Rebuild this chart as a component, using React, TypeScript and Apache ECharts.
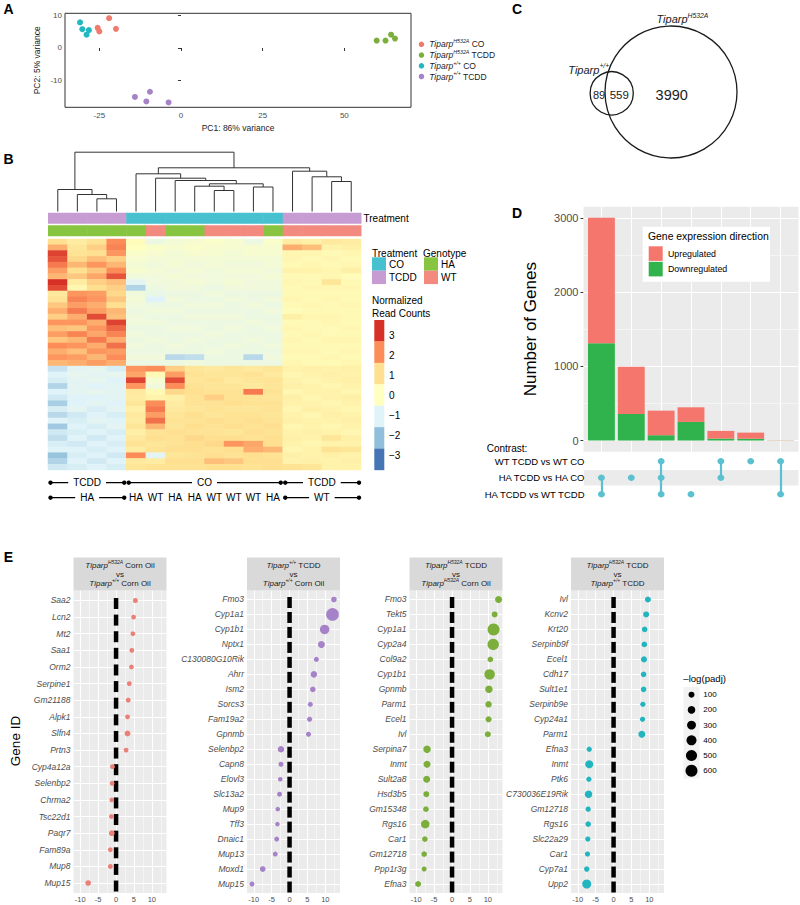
import React, { useEffect, useRef } from 'react';
import * as echarts from 'echarts';

const FONT = "'Liberation Sans', Arial, Helvetica, sans-serif";

// ---------------- Panel A : PCA ----------------
const pcaGroups = ['H532A CO', 'H532A TCDD', '+/+ CO', '+/+ TCDD'];
const pcaGroupSup = ['H532A', 'H532A', '+/+', '+/+'];
const pcaGroupTreat = [' CO', ' TCDD', ' CO', ' TCDD'];
const pcaH532A_CO = [[-25.5, 6.2], [-25.0, 5.1], [-22.0, 9.2], [-19.9, 5.9]];
const pcaH532A_TCDD = [[59.9, 2.3], [62.6, 2.3], [64.3, 4.1], [65.5, 2.9]];
const pcaWT_CO = [[-30.9, 7.9], [-30.2, 5.8], [-28.9, 4.1], [-28.2, 5.5]];
const pcaWT_TCDD = [[-14.1, -15.1], [-10.6, -16.5], [-9.5, -13.5], [-3.8, -16.8]];
const pcaColors = ['#EF7B6D', '#7BAE3B', '#22B8C1', '#A683C8'];
const pcaXTicks = [-25, 0, 25, 50];
const pcaYTicks = [-10, 0, 10];

// ---------------- Panel C : Venn ----------------
const vennOnlyWT = 89;
const vennShared = 559;
const vennOnlyHA = 3990;

// ---------------- Panel B : heatmap ----------------
const hmSamples = ['s1', 's2', 's3', 's4', 's5', 's6', 's7', 's8', 's9', 's10', 's11', 's12', 's13', 's14', 's15', 's16'];
const hmTreatment = ['TCDD', 'TCDD', 'TCDD', 'TCDD', 'CO', 'CO', 'CO', 'CO', 'CO', 'CO', 'CO', 'CO', 'TCDD', 'TCDD', 'TCDD', 'TCDD'];
const hmGenotype = ['HA', 'HA', 'HA', 'HA', 'HA', 'WT', 'HA', 'HA', 'WT', 'WT', 'WT', 'HA', 'WT', 'WT', 'WT', 'WT'];
const hmValues = [
  [1.0, 0.6, 0.9, 2.0, 0.1, -0.6, -0.4, -0.3, -0.2, -0.3, -0.6, -0.2, 0.6, 0.5, 0.7, 0.6],
  [1.6, 0.8, 1.2, 2.1, 0.0, -0.2, -0.3, -0.2, -0.3, -0.3, -0.3, -0.3, 1.6, 1.4, 0.4, 0.5],
  [2.8, 0.9, 1.0, 1.9, -0.2, -0.3, -0.4, -0.3, -0.3, -0.4, -0.3, -0.3, 0.3, 0.3, 0.2, 0.3],
  [2.6, 1.1, 1.4, 1.2, -0.3, -0.4, -0.4, -0.4, -0.4, -0.4, -0.4, -0.4, 0.3, 0.2, 0.3, 0.2],
  [2.2, 1.5, 1.9, 1.5, -0.4, -0.5, -0.4, -0.5, -0.4, -0.5, -0.5, -0.4, 0.2, 0.3, 0.2, 0.3],
  [1.8, 1.0, 1.3, 2.0, -0.3, -0.4, -0.5, -0.4, -0.5, -0.4, -0.4, -0.5, 0.4, 0.4, 0.3, 0.5],
  [1.5, 1.3, 1.7, 2.6, -0.5, -0.5, -0.4, -0.5, -0.5, -0.5, -0.5, -0.4, 0.2, 0.2, 0.3, 0.1],
  [3.0, 0.6, 1.2, 1.4, -0.9, -0.5, -0.5, -0.4, -0.5, -0.4, -0.5, -0.5, 0.3, 0.2, 0.8, 0.2],
  [2.7, 0.3, 1.0, 1.2, -1.6, -0.6, -0.5, -0.5, -0.6, -0.5, -0.5, -0.5, 0.2, 0.3, 0.3, 0.3],
  [0.7, 1.9, 1.8, 1.1, -0.5, -0.7, -0.6, -0.6, -0.5, -0.6, -0.6, -0.6, 0.2, 0.2, 0.2, 0.2],
  [0.9, 2.1, 1.9, 1.3, -0.4, -1.0, -0.5, -0.6, -0.6, -0.5, -0.6, -0.5, 0.3, 0.2, 0.3, 0.2],
  [1.3, 1.8, 1.6, 1.0, -0.5, -0.6, -0.6, -0.5, -0.5, -0.6, -0.5, -0.6, 0.2, 0.3, 0.2, 0.3],
  [1.6, 2.2, 1.8, 1.5, -0.6, -0.5, -0.5, -0.6, -0.6, -0.6, -0.6, -0.5, 0.1, 0.2, 0.2, 0.2],
  [1.2, 1.6, 2.7, 1.4, -0.5, -0.6, -0.6, -0.5, -0.5, -0.5, -0.6, -0.6, 0.5, 0.3, 0.3, 0.2],
  [1.9, 1.9, 1.6, 2.8, -0.5, -0.5, -0.6, -0.6, -0.6, -0.6, -0.5, -0.6, 0.2, 0.2, 0.3, 0.2],
  [1.4, 1.3, 1.9, 2.4, -0.6, -0.6, -0.5, -0.5, -0.6, -0.5, -0.6, -0.5, 0.3, 0.2, 0.2, 0.3],
  [1.8, 2.1, 1.7, 2.1, -0.5, -0.6, -0.6, -0.6, -0.5, -0.6, -0.6, -0.6, 0.2, 0.3, 0.2, 0.2],
  [1.3, 1.5, 2.2, 1.6, -0.6, -0.5, -0.6, -0.5, -0.6, -0.6, -0.5, -0.6, 0.3, 0.2, 0.3, 0.3],
  [2.0, 1.9, 1.6, 2.3, -0.5, -0.6, -0.5, -0.6, -0.6, -0.5, -0.6, -0.5, 0.2, 0.2, 0.2, 0.2],
  [1.6, 1.4, 1.9, 1.8, -0.6, -0.6, -0.6, -0.6, -0.5, -0.6, -0.6, -0.6, 0.3, 0.3, 0.2, 0.3],
  [1.9, 1.8, 1.5, 2.0, -0.5, -0.5, -1.5, -1.4, -0.6, -0.6, -1.5, -0.5, 0.2, 0.2, 0.3, 0.2],
  [1.5, 1.6, 1.8, 1.6, -0.6, -0.6, -0.6, -0.5, -0.6, -0.6, -0.6, -0.6, 0.3, 0.2, 0.2, 0.3],
  [-1.3, -0.9, -0.8, -1.1, 1.9, 2.0, 1.2, 0.8, 0.7, 0.8, 0.7, 0.8, 0.4, 0.5, 0.4, 0.5],
  [-1.0, -0.8, -0.9, -0.8, 1.7, 0.2, 1.8, 0.9, 0.8, 0.8, 0.9, 0.7, 0.3, 0.4, 0.5, 0.4],
  [-1.1, -0.9, -0.8, -1.0, 2.8, -0.3, 2.7, 0.8, 0.9, 0.7, 0.8, 0.9, 0.4, 0.3, 0.4, 0.5],
  [-1.6, -0.9, -1.0, -0.9, 1.9, -0.5, 2.0, 0.9, 0.8, 0.8, 0.7, 0.8, 0.5, 0.4, 0.3, 0.4],
  [-1.0, -0.9, -0.8, -0.9, 0.7, 0.2, 1.1, 1.0, 0.9, 0.9, 2.2, 0.9, 0.3, 0.4, 0.4, 0.3],
  [-1.2, -1.0, -1.0, -0.9, 0.6, 0.4, 0.5, 0.9, 1.2, 0.9, 0.9, 0.8, 0.5, 0.3, 0.4, 0.5],
  [-1.7, -1.0, -0.9, -1.0, 0.8, 2.0, 0.6, 0.9, 0.9, 1.0, 0.9, 0.9, 0.4, 0.4, 0.3, 0.4],
  [-1.1, -0.9, -1.1, -0.9, 0.5, 2.2, 0.7, 0.8, 0.9, 0.8, 0.8, 0.9, 0.3, 0.5, 0.4, 0.3],
  [-1.5, -1.2, -1.0, -1.1, 0.7, 1.8, 0.8, 1.0, 0.8, 0.9, 0.9, 0.8, 0.4, 0.3, 0.5, 0.4],
  [-1.0, -1.1, -0.9, -1.0, 0.6, 2.3, 0.9, 0.9, 1.0, 0.9, 1.0, 0.9, 0.5, 0.4, 0.4, 0.5],
  [-1.8, -1.0, -1.1, -0.9, 0.8, 1.5, 0.8, 1.0, 0.9, 1.0, 0.9, 1.0, 0.3, 0.4, 0.3, 0.4],
  [-1.2, -1.1, -1.0, -1.1, 0.5, 0.9, 1.0, 0.9, 0.9, 0.8, 1.0, 0.9, 0.4, 0.5, 0.4, 0.3],
  [-1.4, -1.0, -1.2, -1.0, 0.7, 1.0, 0.9, 1.1, 1.0, 1.0, 0.9, 1.0, 0.5, 0.4, 0.8, 0.5],
  [-1.1, -1.2, -1.0, -1.1, 0.9, 0.8, 0.9, 1.0, 1.1, 1.9, 1.7, 1.0, 0.4, 0.3, 0.4, 0.4],
  [-1.0, -1.0, -1.1, -1.0, 0.6, 0.9, 1.0, 1.0, 0.9, 1.0, 1.6, 1.5, 0.3, 0.4, 0.9, 0.8],
  [-1.9, -1.1, -1.0, -1.2, 2.0, -0.9, 0.8, 0.9, 1.0, 0.9, 1.0, 0.9, 0.5, 0.4, 0.5, 0.4],
  [-1.6, -1.0, -1.2, -1.0, 0.7, 0.6, 1.0, 1.0, 1.4, 1.3, 1.0, 1.0, 0.4, 0.5, 0.4, 0.5],
  [-1.2, -1.1, -1.0, -1.1, 0.8, 0.9, 0.9, 0.9, 1.0, 1.0, 0.9, 1.0, 0.9, 0.8, 0.4, 0.4],
];
// hclust-style merges (negative = leaf, positive = earlier merge) and merge heights
const dendroMerge = [[-3, -4], [-2, 1], [-1, 2], [-9, -10], [-8, 4], [-11, -12], [5, 6], [-7, 7], [-6, 8], [-5, 9], [-15, -16], [-14, 11], [-13, 12], [10, 13], [3, 14]];
const dendroHeight = [12.7, 17, 22, 21, 25.3, 24.5, 27.7, 31, 33.3, 37.7, 30, 34.7, 40.3, 43.7, 59.3];
const hmPalette = ['#4575B4', '#91BFDB', '#E0F3F8', '#FFFFBF', '#FEE090', '#FC8D59', '#D73027'];
const hmLegendValues = [3, 2, 1, 0, -1, -2, -3];
const treatmentKeys = ['CO', 'TCDD'];
const treatmentColors: Record<string, string> = { CO: '#47C1CF', TCDD: '#C69CD2' };
const genotypeKeys = ['HA', 'WT'];
const genotypeColors: Record<string, string> = { HA: '#87C440', WT: '#F28A7F' };

// ---------------- Panel D : upset ----------------
const upsetDown = [1310, 358, 72, 251, 27, 25, 2];
const upsetUp = [1690, 636, 331, 197, 103, 82, 3];
const upsetCats = ['c1', 'c2', 'c3', 'c4', 'c5', 'c6', 'c7'];
const contrasts = ['WT TCDD vs WT CO', 'HA TCDD vs HA CO', 'HA TCDD vs WT TCDD'];
const upsetSets = [[1, 2], [1], [0, 1, 2], [2], [0, 1], [0], [0, 2]];
const upsetYTicks = [0, 1000, 2000, 3000];
const upsetYMinor = [500, 1500, 2500];

// ---------------- Panel E : dot plots ----------------
const e1Genes = ['Saa2', 'Lcn2', 'Mt2', 'Saa1', 'Orm2', 'Serpine1', 'Gm21188', 'Alpk1', 'Slfn4', 'Prtn3', 'Cyp4a12a', 'Selenbp2', 'Chrma2', 'Tsc22d1', 'Paqr7', 'Fam89a', 'Mup8', 'Mup15'];
const e1LogFC = [5.4, 4.9, 4.7, 4.4, 4.3, 3.7, 3.4, 3.2, 3.2, 2.8, -1.0, -1.1, -1.2, -1.3, -1.2, -1.6, -1.6, -7.8];
const e1NegLogP = [50, 40, 40, 40, 40, 40, 40, 40, 90, 40, 40, 45, 35, 40, 90, 40, 45, 80];
const e2Genes = ['Fmo3', 'Cyp1a1', 'Cyp1b1', 'Nptx1', 'C130080G10Rik', 'Ahrr', 'Ism2', 'Sorcs3', 'Fam19a2', 'Gpnmb', 'Selenbp2', 'Capn8', 'Elovl3', 'Slc13a2', 'Mup9', 'Tff3', 'Dnaic1', 'Mup13', 'Moxd1', 'Mup15'];
const e2LogFC = [12.4, 12.0, 9.8, 8.9, 7.5, 6.8, 6.5, 5.8, 5.6, 5.3, -2.4, -2.4, -2.6, -2.8, -3.3, -3.4, -3.6, -4.0, -7.5, -10.5];
const e2NegLogP = [80, 680, 350, 160, 50, 130, 80, 50, 50, 50, 130, 50, 30, 50, 30, 30, 50, 50, 80, 50];
const e3Genes = ['Fmo3', 'Tekt5', 'Cyp1a1', 'Cyp2a4', 'Col9a2', 'Cyp1b1', 'Gpnmb', 'Parm1', 'Ecel1', 'Ivl', 'Serpina7', 'Inmt', 'Sult2a8', 'Hsd3b5', 'Gm15348', 'Rgs16', 'Car1', 'Gm12718', 'Ppp1r3g', 'Efna3'];
const e3LogFC = [13.0, 11.9, 11.6, 11.5, 10.7, 10.5, 10.3, 10.2, 10.2, 10.0, -7.0, -7.0, -7.1, -7.2, -7.3, -7.5, -7.6, -7.8, -7.8, -9.5];
const e3NegLogP = [160, 100, 600, 540, 80, 440, 190, 130, 100, 100, 190, 160, 160, 100, 80, 270, 80, 80, 50, 100];
const e4Genes = ['Ivl', 'Kcnv2', 'Krt20', 'Serpinb9f', 'Ecel1', 'Cdh17', 'Sult1e1', 'Serpinb9e', 'Cyp24a1', 'Parm1', 'Efna3', 'Inmt', 'Ptk6', 'C730036E19Rik', 'Gm12718', 'Rgs16', 'Slc22a29', 'Car1', 'Cyp7a1', 'Upp2'];
const e4LogFC = [9.6, 9.1, 8.7, 8.6, 8.5, 8.4, 8.4, 8.2, 8.1, 7.9, -6.8, -6.8, -6.9, -7.0, -7.1, -7.1, -7.2, -7.3, -7.5, -7.5];
const e4NegLogP = [100, 100, 80, 80, 100, 80, 80, 60, 60, 160, 60, 230, 60, 190, 60, 80, 60, 60, 70, 310];
const eColors = ['#EA8077', '#A683C8', '#7BAE3B', '#22B5C0'];
const eSup1 = ['H532A', '+/+', 'H532A', 'H532A'];
const eTreat1 = [' Corn Oil', ' TCDD', ' TCDD', ' TCDD'];
const eSup2 = ['+/+', '+/+', 'H532A', '+/+'];
const eTreat2 = [' Corn Oil', ' Corn Oil', ' Corn Oil', ' TCDD'];
const eXTicks = [-10, -5, 0, 5, 10];
const eXMinor = [-7.5, -2.5, 2.5, 7.5, 12.5];
const eSizeLegend = [100, 200, 300, 400, 500, 600];

const eSize = (v: number) => Math.sqrt(14.4 + 0.216 * v);
const tip = (sup: string, rest: string) => `{i|Tiparp}{s|${sup}}{n|${rest}}`;
// rich styles for graphic (zrender uses fill) and for components (color)
const tipRichG = (fs: number) => ({
  i: { fontStyle: 'italic', fontSize: fs, lineHeight: fs * 1.3, fontFamily: FONT, fill: '#1a1a1a' },
  s: { fontStyle: 'italic', fontSize: fs * 0.62, lineHeight: fs * 0.75, verticalAlign: 'top', fontFamily: FONT, fill: '#1a1a1a' },
  n: { fontSize: fs, lineHeight: fs * 1.3, fontFamily: FONT, fill: '#1a1a1a' },
});
const tipRichC = (fs: number) => ({
  i: { fontStyle: 'italic', fontSize: fs, lineHeight: fs * 1.3, fontFamily: FONT, color: '#1a1a1a' },
  s: { fontStyle: 'italic', fontSize: fs * 0.62, lineHeight: fs * 0.75, verticalAlign: 'top', fontFamily: FONT, color: '#1a1a1a' },
  n: { fontSize: fs, lineHeight: fs * 1.3, fontFamily: FONT, color: '#1a1a1a' },
});

function buildOption() {
  const grid: any[] = [];
  const xAxis: any[] = [];
  const yAxis: any[] = [];
  const series: any[] = [];
  const graphic: any[] = [];
  const off = { show: false };
  const addGrid = (g: any) => { grid.push(g); return grid.length - 1; };
  const txt = (x: number, y: number, text: string, o: any = {}) => graphic.push({
    type: 'text', x, y, rotation: o.rotation || 0, z: 20,
    style: { text, fontSize: o.fontSize || 10, fontFamily: o.fontFamily || FONT, fontWeight: o.fontWeight || 'normal', fontStyle: o.fontStyle || 'normal', fill: o.fill || '#000', align: o.align || 'left', verticalAlign: 'middle', rich: o.rich, backgroundColor: o.bg, padding: o.padding },
  });

  // ===== Panel A =====
  const gA = addGrid({ left: 65, top: 13.3, width: 346, height: 94, show: true, borderColor: '#333', borderWidth: 1, backgroundColor: '#fff' });
  xAxis.push({
    gridIndex: gA, type: 'value', min: -35.5, max: 70.4, axisLine: off, splitLine: off,
    axisTick: { show: true, length: 3, customValues: pcaXTicks, lineStyle: { color: '#333' } },
    axisLabel: { customValues: pcaXTicks, fontSize: 8, color: '#4d4d4d', margin: 4 },
    name: 'PC1: 86% variance', nameLocation: 'middle', nameGap: 16, nameTextStyle: { fontSize: 8.5, color: '#1a1a1a' },
  });
  yAxis.push({
    gridIndex: gA, type: 'value', min: -18.3, max: 10.7, axisLine: off, splitLine: off,
    axisTick: { show: true, length: 3, customValues: pcaYTicks, lineStyle: { color: '#333' } },
    axisLabel: { customValues: pcaYTicks, fontSize: 8, color: '#4d4d4d', margin: 3 },
    name: 'PC2: 5% variance', nameLocation: 'middle', nameGap: 24, nameRotate: 90, nameTextStyle: { fontSize: 8.5, color: '#1a1a1a' },
  });
  [pcaH532A_CO, pcaH532A_TCDD, pcaWT_CO, pcaWT_TCDD].forEach((d, k) => series.push({
    type: 'scatter', name: pcaGroups[k], xAxisIndex: gA, yAxisIndex: gA, data: d, symbolSize: 6,
    itemStyle: { color: pcaColors[k], opacity: 1 }, z: 5, silent: true,
  }));

  // ===== Panel C: Venn =====
  graphic.push({ type: 'circle', shape: { cx: 671, cy: 92, r: 66 }, style: { fill: 'none', stroke: '#1a1a1a', lineWidth: 1.3 } });
  graphic.push({ type: 'circle', shape: { cx: 611.7, cy: 93.3, r: 21.6 }, style: { fill: 'none', stroke: '#1a1a1a', lineWidth: 1.3 } });
  txt(599, 95, String(vennOnlyWT), { fontSize: 11, align: 'center', fill: '#1a1a1a' });
  txt(619.3, 95, String(vennShared), { fontSize: 11.5, align: 'center', fill: '#1a1a1a' });
  txt(671.7, 95, String(vennOnlyHA), { fontSize: 14.5, align: 'center', fill: '#1a1a1a' });
  txt(656.5, 19, tip('H532A', ''), { fontSize: 11, rich: tipRichG(11) });
  txt(568.3, 69.5, tip('+/+', ''), { fontSize: 11, rich: tipRichG(11) });

  // ===== Panel B =====
  const HM_LEFT = 48, HM_W = 313, COL_W = HM_W / 16;
  const gDen = addGrid({ left: HM_LEFT, top: 150, width: HM_W, height: 61.5 });
  xAxis.push({ gridIndex: gDen, type: 'value', min: 0, max: 16, show: false });
  yAxis.push({ gridIndex: gDen, type: 'value', min: 0, max: 61.5, show: false });
  const nodeX: number[] = [];
  const nodeH: number[] = [];
  const pos = (r: number) => (r < 0 ? [-r - 1 + 0.5, 0] : [nodeX[r - 1], nodeH[r - 1]]);
  const dendroSegs = dendroMerge.map(([a, b], k) => {
    const [xa, ha] = pos(a);
    const [xb, hb] = pos(b);
    const h = dendroHeight[k];
    nodeX.push((xa + xb) / 2);
    nodeH.push(h);
    return { coords: [[xa, ha], [xa, h], [xb, h], [xb, hb]] };
  });
  series.push({
    type: 'lines', coordinateSystem: 'cartesian2d', xAxisIndex: gDen, yAxisIndex: gDen, polyline: true,
    data: dendroSegs, lineStyle: { color: '#333', width: 1, opacity: 1 }, silent: true,
  });
  const gAnn = addGrid({ left: HM_LEFT, top: 212, width: HM_W, height: 25 });
  xAxis.push({ gridIndex: gAnn, type: 'category', data: hmSamples, show: false });
  yAxis.push({
    gridIndex: gAnn, type: 'category', data: ['Treatment', 'Genotype'], inverse: true, position: 'right',
    axisLine: off, axisTick: off, axisLabel: { fontSize: 10, color: '#000', margin: 2.5 },
  });
  const annCells = [
    ...hmTreatment.map((t, i) => ({ col: i, row: 0, color: treatmentColors[t] })),
    ...hmGenotype.map((g, i) => ({ col: i, row: 1, color: genotypeColors[g] })),
  ];
  series.push({
    type: 'custom', xAxisIndex: gAnn, yAxisIndex: gAnn, silent: true,
    data: annCells.map((c) => [c.col, c.row]),
    renderItem: (params: any, api: any) => {
      const p = api.coord([api.value(0), api.value(1)]);
      const s = api.size([1, 1]);
      return { type: 'rect', shape: { x: p[0] - s[0] / 2, y: p[1] - 5.5, width: s[0] + 0.5, height: 11 }, style: { fill: annCells[params.dataIndex].color } };
    },
  });
  const gHm = addGrid({ left: HM_LEFT, top: 239, width: HM_W, height: 231 });
  xAxis.push({ gridIndex: gHm, type: 'category', data: hmSamples, show: false });
  yAxis.push({ gridIndex: gHm, type: 'category', data: hmValues.map((_, i) => 'g' + i), inverse: true, show: false });
  const hmData: number[][] = [];
  hmValues.forEach((row, r) => row.forEach((v, c) => hmData.push([c, r, v])));
  const heatIdx = series.length;
  series.push({ type: 'heatmap', xAxisIndex: gHm, yAxisIndex: gHm, data: hmData, silent: true, progressive: 0, itemStyle: { borderWidth: 0 } });

  txt(372, 253.3, 'Treatment', { fontSize: 10 });
  txt(423, 253.3, 'Genotype', { fontSize: 10 });
  treatmentKeys.forEach((k, i) => {
    graphic.push({ type: 'rect', shape: { x: 372, y: 257.3 + i * 13.4, width: 14, height: 13.4 }, style: { fill: treatmentColors[k] } });
    txt(389, 264 + i * 13.6, k, { fontSize: 10 });
  });
  genotypeKeys.forEach((k, i) => {
    graphic.push({ type: 'rect', shape: { x: 424, y: 257.3 + i * 13.4, width: 14, height: 13.4 }, style: { fill: genotypeColors[k] } });
    txt(441, 264 + i * 13.6, k, { fontSize: 10 });
  });
  txt(372, 300, 'Normalized', { fontSize: 10 });
  txt(372, 313.3, 'Read Counts', { fontSize: 10 });
  hmLegendValues.forEach((v, i) => {
    graphic.push({ type: 'rect', shape: { x: 374.3, y: 320 + i * 21.43, width: 10, height: 21.6 }, style: { fill: hmPalette[6 - i] } });
    txt(389, 335 + i * 20, v < 0 ? '\u2212' + Math.abs(v) : String(v), { fontSize: 10 });
  });

  const spans: { s: number; e: number; label: string }[] = [];
  hmTreatment.forEach((t, i) => {
    if (i > 0 && hmTreatment[i - 1] === t) spans[spans.length - 1].e = i;
    else spans.push({ s: i, e: i, label: t });
  });
  const bracket = (x0: number, x1: number, y: number, label: string) => {
    graphic.push({ type: 'line', shape: { x1: x0 + 2.5, y1: y, x2: x1 - 2, y2: y }, style: { stroke: '#000', lineWidth: 1.2 } });
    graphic.push({ type: 'circle', shape: { cx: x0 + 2.5, cy: y, r: 2.2 }, style: { fill: '#000' } });
    graphic.push({ type: 'circle', shape: { cx: x1 - 2, cy: y, r: 2.2 }, style: { fill: '#000' } });
    txt((x0 + x1) / 2, y, label, { fontSize: 10, align: 'center', bg: '#fff', padding: [0, 5] });
  };
  spans.forEach((sp) => {
    const x0 = HM_LEFT + sp.s * COL_W;
    const x1 = HM_LEFT + (sp.e + 1) * COL_W;
    bracket(x0, x1, 482.7, sp.label);
    const gens = hmGenotype.slice(sp.s, sp.e + 1);
    if (gens.every((g) => g === gens[0])) bracket(x0, x1, 497.7, gens[0]);
    else gens.forEach((g, j) => txt(HM_LEFT + (sp.s + j + 0.5) * COL_W, 497.7, g, { fontSize: 10, align: 'center' }));
  });

  // ===== Panel D =====
  const gDbg = addGrid({ left: 583.5, top: 206.7, width: 215, height: 245, show: true, backgroundColor: '#EBEBEB', borderWidth: 0 });
  const catPos = upsetCats.map((_, i) => i + 1);
  xAxis.push({
    gridIndex: gDbg, type: 'value', min: 0.4, max: 7.6, axisLine: off, splitLine: off, axisLabel: off,
    axisTick: { show: true, length: 3, customValues: catPos, lineStyle: { color: '#333' } },
  });
  yAxis.push({
    gridIndex: gDbg, type: 'value', min: -150, max: 3150, axisLine: off, splitLine: off,
    axisTick: { show: true, length: 3, customValues: upsetYTicks, lineStyle: { color: '#333' } },
    axisLabel: { customValues: upsetYTicks, formatter: (v: number) => String(v), fontSize: 11, color: '#4d4d4d', margin: 5 },
    name: 'Number of Genes', nameLocation: 'middle', nameGap: 45, nameRotate: 90, nameTextStyle: { fontSize: 17, color: '#000' },
  });
  series.push({
    type: 'line', xAxisIndex: gDbg, yAxisIndex: gDbg, data: [[1, -150]], symbol: 'none', lineStyle: { opacity: 0 }, silent: true,
    markLine: {
      silent: true, symbol: ['none', 'none'], label: off, animation: false,
      data: [
        ...upsetYTicks.map((v) => ({ yAxis: v, lineStyle: { color: '#fff', width: 1.1, type: 'solid' } })),
        ...upsetYMinor.map((v) => ({ yAxis: v, lineStyle: { color: '#fff', width: 0.5, type: 'solid' } })),
        ...catPos.map((v) => ({ xAxis: v, lineStyle: { color: '#fff', width: 1.1, type: 'solid' } })),
      ],
    },
  });
  const gD = addGrid({ left: 586.5, top: 206.7, width: 209, height: 245 });
  xAxis.push({ gridIndex: gD, type: 'category', data: upsetCats, show: false });
  yAxis.push({ gridIndex: gD, type: 'value', min: -150, max: 3150, show: false });
  series.push({ type: 'bar', name: 'Downregulated', stack: 'dir', xAxisIndex: gD, yAxisIndex: gD, data: upsetDown, barWidth: '90%', itemStyle: { color: '#30B24C' }, z: 10, silent: true });
  series.push({ type: 'bar', name: 'Upregulated', stack: 'dir', xAxisIndex: gD, yAxisIndex: gD, data: upsetUp, barWidth: '90%', itemStyle: { color: '#F4766C' }, z: 10, silent: true });
  graphic.push({ type: 'rect', shape: { x: 642.7, y: 226.7, width: 127.3, height: 55 }, style: { fill: '#fff' }, z: 15 });
  txt(648, 236.7, 'Gene expression direction', { fontSize: 10.4 });
  graphic.push({ type: 'rect', shape: { x: 648.7, y: 246.3, width: 14, height: 14.6 }, style: { fill: '#F4766C' }, z: 16 });
  graphic.push({ type: 'rect', shape: { x: 648.7, y: 261.8, width: 14, height: 14.6 }, style: { fill: '#30B24C' }, z: 16 });
  txt(668, 253.6, 'Upregulated', { fontSize: 8.8 });
  txt(668, 269, 'Downregulated', { fontSize: 8.8 });
  graphic.push({ type: 'rect', shape: { x: 584, y: 470, width: 214.5, height: 15.5 }, style: { fill: '#EBEBEB' }, z: 0 });
  txt(486.7, 448.3, 'Contrast:', { fontSize: 10 });
  const gM = addGrid({ left: 586.5, top: 453, width: 209, height: 49.5 });
  xAxis.push({ gridIndex: gM, type: 'category', data: upsetCats, show: false });
  yAxis.push({
    gridIndex: gM, type: 'category', data: contrasts, inverse: true, axisLine: off, axisTick: off,
    axisLabel: { fontSize: 9.5, color: '#000', margin: 2 },
  });
  const dotData: number[][] = [];
  const linkData: any[] = [];
  upsetSets.forEach((set, c) => {
    set.forEach((r) => dotData.push([c, r]));
    if (set.length > 1) linkData.push({ coords: [[c, Math.min(...set)], [c, Math.max(...set)]] });
  });
  series.push({ type: 'lines', coordinateSystem: 'cartesian2d', xAxisIndex: gM, yAxisIndex: gM, data: linkData, lineStyle: { color: '#5BC0CF', width: 2.2, opacity: 1 }, z: 9, silent: true });
  series.push({ type: 'scatter', xAxisIndex: gM, yAxisIndex: gM, data: dotData, symbolSize: [7, 6.3], itemStyle: { color: '#5BC0CF', opacity: 1 }, z: 10, silent: true });

  // ===== Panel E =====
  const eGenes = [e1Genes, e2Genes, e3Genes, e4Genes];
  const eFC = [e1LogFC, e2LogFC, e3LogFC, e4LogFC];
  const eP = [e1NegLogP, e2NegLogP, e3NegLogP, e4NegLogP];
  const eLefts = [73.5, 247, 409.5, 571];
  const E_TOP = 590.5, E_H = 302.5, E_W = 93;
  eGenes.forEach((genes, k) => {
    const g = addGrid({ left: eLefts[k], top: E_TOP, width: E_W, height: E_H, show: true, backgroundColor: '#EBEBEB', borderWidth: 0 });
    const n = genes.length;
    const rowIdx = genes.map((_, i) => i);
    xAxis.push({
      gridIndex: g, type: 'value', min: -11.9, max: 14.1, axisLine: off, splitLine: off,
      axisTick: { show: true, length: 2.5, customValues: eXTicks, lineStyle: { color: '#333' } },
      axisLabel: { customValues: eXTicks, fontSize: 7.5, color: '#4d4d4d', margin: 2.5 },
    });
    yAxis.push({
      gridIndex: g, type: 'value', min: -0.6, max: n - 0.4, inverse: true, axisLine: off, splitLine: off,
      axisTick: { show: true, length: 2.5, customValues: rowIdx, lineStyle: { color: '#333' } },
      axisLabel: { customValues: rowIdx, formatter: (v: number) => genes[Math.round(v)] || '', fontSize: 8.5, fontStyle: 'italic', color: '#4d4d4d', margin: 3 },
    });
    series.push({
      type: 'line', xAxisIndex: g, yAxisIndex: g, data: [[0, 0]], symbol: 'none', lineStyle: { opacity: 0 }, silent: true,
      markLine: {
        silent: true, symbol: ['none', 'none'], label: off, animation: false,
        data: [
          ...eXMinor.map((v) => ({ xAxis: v, lineStyle: { color: '#fff', width: 0.5, type: 'solid' } })),
          ...eXTicks.map((v) => ({ xAxis: v, lineStyle: { color: '#fff', width: 1.1, type: 'solid' } })),
          ...rowIdx.map((v) => ({ yAxis: v, lineStyle: { color: '#fff', width: 1.1, type: 'solid' } })),
        ],
      },
    });
    series.push({
      type: 'scatter', xAxisIndex: g, yAxisIndex: g, data: rowIdx.map((i) => [0, i]), symbol: 'rect',
      symbolSize: [4.5, 11], symbolOffset: [0, 3], itemStyle: { color: '#000', opacity: 1 }, z: 8, silent: true,
    });
    series.push({
      type: 'scatter', xAxisIndex: g, yAxisIndex: g, data: eFC[k].map((x, i) => [x, i, eP[k][i]]),
      symbolSize: (v: number[]) => eSize(v[2]), itemStyle: { color: eColors[k], opacity: 1 }, z: 10, silent: true,
    });
    graphic.push({ type: 'rect', shape: { x: eLefts[k], y: 557.5, width: E_W, height: 33 }, style: { fill: '#D9D9D9' }, z: 1 });
    txt(eLefts[k] + E_W / 2, 565, tip(eSup1[k], eTreat1[k]), { fontSize: 8, align: 'center', rich: tipRichG(8) });
    txt(eLefts[k] + E_W / 2, 574.2, 'vs', { fontSize: 8, align: 'center', fill: '#1a1a1a' });
    txt(eLefts[k] + E_W / 2, 583.4, tip(eSup2[k], eTreat2[k]), { fontSize: 8, align: 'center', rich: tipRichG(8) });
  });
  txt(15, 741, 'Gene ID', { fontSize: 13.5, align: 'center', rotation: Math.PI / 2 });
  txt(683.3, 678.3, '\u2013log(padj)', { fontSize: 9.6 });
  graphic.push({ type: 'rect', shape: { x: 683.5, y: 687, width: 16, height: 91.5 }, style: { fill: '#F2F2F2' }, z: 1 });
  eSizeLegend.forEach((v, i) => {
    graphic.push({ type: 'circle', shape: { cx: 691.5, cy: 694.7 + i * 15.2, r: eSize(v) / 2 }, style: { fill: '#000' }, z: 5 });
    txt(703.3, 694.7 + i * 15.2, String(v), { fontSize: 8 });
  });

  [['A', 8.5, 8.5], ['B', 8.5, 159], ['C', 517, 8.5], ['D', 517, 213], ['E', 8.5, 557]].forEach(([l, x, y]) =>
    txt(x as number, y as number, l as string, { fontSize: 14, fontWeight: 'bold', align: 'center' }));

  return {
    animation: false,
    backgroundColor: '#fff',
    textStyle: { fontFamily: FONT },
    tooltip: { show: false },
    legend: [{
      data: pcaGroups, orient: 'vertical', left: 418.7, top: 38.8, padding: 0, icon: 'circle',
      itemWidth: 5.5, itemHeight: 5.5, itemGap: 0.7, selectedMode: false,
      formatter: (name: string) => { const k = pcaGroups.indexOf(name); return tip(pcaGroupSup[k], pcaGroupTreat[k]); },
      textStyle: { fontSize: 8.5, color: '#1a1a1a', rich: tipRichC(8.5) },
    }],
    visualMap: [{ type: 'continuous', show: false, seriesIndex: heatIdx, dimension: 2, min: -3, max: 3, inRange: { color: hmPalette } }],
    grid, xAxis, yAxis, series, graphic,
  };
}

export default function App() {
  const ref = useRef<HTMLDivElement>(null);
  useEffect(() => {
    document.body.style.margin = '0';
    const chart = echarts.init(ref.current!, null, { renderer: 'svg' });
    chart.setOption(buildOption() as any);
    return () => chart.dispose();
  }, []);
  return <div ref={ref} style={{ width: 800, height: 905, background: '#fff' }} />;
}
